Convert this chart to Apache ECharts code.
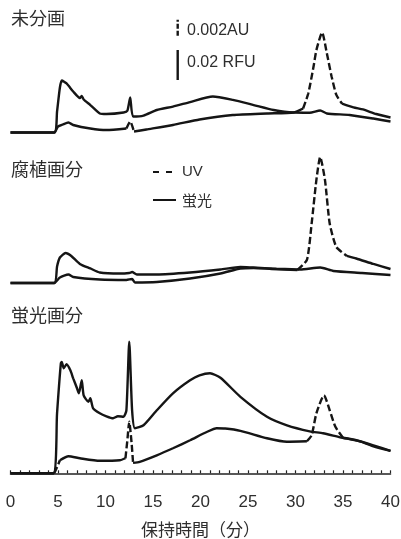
<!DOCTYPE html>
<html>
<head>
<meta charset="utf-8">
<script src="https://cdn.jsdelivr.net/npm/echarts@6/dist/echarts.min.js"></script>
<style>
  html, body { margin: 0; padding: 0; background: #fff; }
  #chart { width: 401px; height: 539px; }
</style>
</head>
<body>
<div id="chart"></div>
<script>
// ---------------- DATA ----------------
// x: retention time (min); fluorescence in mRFU, UV absorbance in mAU
const panelTitles = ['未分画', '腐植画分', '蛍光画分'];
const xTickLabels = [0, 5, 10, 15, 20, 25, 30, 35, 40];
const axisTitle = '保持時間（分）';
const legendNames = ['UV', '蛍光'];
const scaleBarUV = 2;      // mAU  (0.002 AU)
const scaleBarFL = 20;     // mRFU (0.02 RFU)
const scaleBarLabels = ['0.002AU', '0.02 RFU'];

const unfracFluor = [[0,0],[4.6,0],[4.9,14],[5.2,30],[5.4,34.7],[5.9,32.7],[6.6,27.3],[7.3,23],[7.5,24.3],[7.7,22],[8.4,18.3],[9.4,12.7],[10.1,12.3],[11.9,13.3],[12.3,14.5],[12.6,23.3],[12.9,10.7],[14.0,11.3],[15.4,15],[17.1,17.3],[18.9,20.3],[21.3,24],[23.4,21.7],[25.6,18.3],[27.7,15],[29.8,13.3],[31.5,13.2],[32.6,14.7],[33.3,12.7],[35.7,11.7],[38.2,9.3],[40,7.3]];
const unfracUV = [[0,0],[4.6,0],[5.0,0.75],[5.5,1.0],[6.1,1.25],[6.6,0.94],[8.4,0.5],[10.1,0.31],[12.2,0.5],[12.6,1.38],[13.0,0.12],[14.3,0.38],[17.1,0.94],[19.9,1.63],[23.4,2.19],[27.0,2.38],[29.8,2.5],[30.8,3.0],[31.35,4.9],[31.9,8.25],[32.2,10.3],[32.8,12.5],[33.3,9.9],[33.8,7.0],[34.3,4.7],[34.9,3.6],[36.1,3.13],[37.1,2.88],[38.5,2.31],[40,1.88]];

const humicFluor = [[0,0],[4.6,0],[4.9,11],[5.2,17],[5.8,20],[6.4,18],[7.3,12.7],[8.4,9.7],[9.4,7],[11.5,6.3],[12.5,6.7],[12.8,7.3],[13.3,5.7],[15.4,5.7],[18.9,7],[22.1,9],[24.2,10.7],[25.5,10.3],[28,9.5],[30.5,9],[32.6,10.3],[34,8],[37,6.7],[40,5.3]];
const humicUV = [[0,0],[4.6,0],[5.2,0.69],[6.1,1.06],[6.6,0.75],[9.4,0.44],[12.2,0.38],[12.8,0.5],[13.1,0.06],[15.4,0.12],[18.9,0.56],[22.1,1.19],[24.2,1.81],[25.6,1.88],[27.5,1.75],[30.2,1.63],[31.2,2.88],[31.7,7.44],[32.2,12.9],[32.6,15.75],[33.1,12.9],[33.6,7.44],[34.3,4.5],[35.4,3.38],[36.4,3.06],[38.2,2.38],[40,1.75]];

const fluorFracFluor = [[0,0],[4.5,0],[4.9,40],[5.3,73.3],[5.4,74.3],[5.6,70],[5.9,72.7],[6.3,68.7],[6.6,63.3],[7.0,56.7],[7.2,53.3],[7.5,62],[7.7,52],[8.2,47.7],[8.4,50],[8.7,43.3],[9.4,40],[10.1,38],[10.8,36.7],[11.3,38],[11.9,37.7],[12.2,42],[12.5,87.7],[12.8,42],[13.1,30],[14.0,32],[15.4,42],[17.1,53.3],[18.9,62],[19.9,65.3],[21.0,66.7],[22.1,63.7],[24.2,51],[27.0,37.7],[29.1,32],[31.5,28],[32.9,26.7],[34.7,24],[36.8,21.3],[38.2,18],[40,15]];
const fluorFracUV = [[0,0],[4.6,0],[4.8,0.5],[5.2,1.63],[6.1,2.13],[7.3,1.88],[9.4,1.56],[11.5,1.63],[12.1,1.88],[12.3,4.13],[12.5,6.44],[12.75,3.75],[12.9,1.31],[13.6,1.44],[15.4,2.25],[17.1,3.13],[18.9,4.13],[20.7,5.19],[21.7,5.63],[22.6,5.6],[24.2,5.31],[27,4.38],[29.1,3.94],[31.2,4],[31.7,4.75],[32.2,7.5],[33.0,9.75],[33.6,7.88],[34.2,5.81],[35.0,4.44],[36.4,4.13],[38.2,3.5],[40,2.81]];

// ---------------- LAYOUT / STYLE ----------------
const INK = '#151515';
const TXT = '#2e2e2e';
const LW = 2.4;
const FONT = '"Liberation Sans", Arial, "Noto Sans CJK JP", sans-serif';
const CJK = '"Noto Sans CJK JP", sans-serif';
const pxPerFL = 30 / scaleBarFL;   // px per mRFU
const pxPerUV = 16 / scaleBarUV;   // px per mAU
const plotLeft = 10.5, plotRight = 10.5;
const panels = [
  { fl: unfracFluor, uv: unfracUV, top: 10, bottom: 142.5, base: 132.5, dash: [[12.3, 12.95], [30.5, 35.0]] },
  { fl: humicFluor, uv: humicUV, top: 150, bottom: 293, base: 283, dash: [[30.4, 35.0]] },
  { fl: fluorFracFluor, uv: fluorFracUV, top: 325, bottom: 485, base: 473.3, dash: [[4.6, 5.3], [12.05, 12.95], [31.3, 35.2]] }
];
const titlePos = [[11, 18.5], [11, 169], [11, 315]];

function splitDash(points, ranges) {
  const solid = [], dashed = [];
  let last = null;
  for (let i = 0; i < points.length - 1; i++) {
    const a = points[i], b = points[i + 1];
    const m = (a[0] + b[0]) / 2;
    const isD = ranges.some(r => m >= r[0] && m <= r[1]);
    const arr = isD ? dashed : solid;
    if (last !== isD) {
      if (arr.length) arr.push([a[0], '-']);
      arr.push(a);
    }
    arr.push(b);
    last = isD;
  }
  return { solid, dashed };
}

const grids = [], xAxes = [], yAxes = [], series = [];
panels.forEach((p, i) => {
  grids.push({ left: plotLeft, right: plotRight, top: p.top, height: p.bottom - p.top, containLabel: false, outerBoundsMode: 'none' });
  const isLast = i === panels.length - 1;
  xAxes.push({
    gridIndex: i, type: 'value', min: 0, max: 40, interval: 1, show: isLast,
    axisLine: { show: true, lineStyle: { color: '#222', width: 1.6 } },
    axisTick: { show: true, inside: true, length: 3, lineStyle: { color: '#222', width: 1.2 } },
    splitLine: { show: false },
    axisLabel: {
      show: true, margin: 9, fontSize: 17, color: TXT, fontFamily: FONT,
      formatter: v => xTickLabels.indexOf(v) >= 0 ? String(v) : ''
    },
    name: isLast ? axisTitle : '', nameLocation: 'middle', nameGap: 36,
    nameTextStyle: { fontSize: 17, color: TXT, fontFamily: CJK }
  });
  const below = p.bottom - p.base, above = p.base - p.top;
  yAxes.push({ gridIndex: i, type: 'value', show: false, min: -below / pxPerFL, max: above / pxPerFL, splitLine: { show: false } });
  yAxes.push({ gridIndex: i, type: 'value', show: false, min: -below / pxPerUV, max: above / pxPerUV, splitLine: { show: false } });

  const parts = splitDash(p.uv, p.dash);
  series.push({
    name: legendNames[0], type: 'line', xAxisIndex: i, yAxisIndex: 2 * i + 1, data: parts.dashed,
    symbol: 'none', smooth: 0.2, connectNulls: false, color: INK,
    lineStyle: { color: INK, width: LW, type: [7, 3] }, silent: true, z: 3
  });
  series.push({
    name: legendNames[0], type: 'line', xAxisIndex: i, yAxisIndex: 2 * i + 1, data: parts.solid,
    symbol: 'none', smooth: 0.2, connectNulls: false, color: INK,
    lineStyle: { color: INK, width: LW }, silent: true, z: 3
  });
  series.push({
    name: legendNames[1], type: 'line', xAxisIndex: i, yAxisIndex: 2 * i, data: p.fl,
    symbol: 'none', smooth: 0.2, color: INK,
    lineStyle: { color: INK, width: LW }, silent: true, z: 4
  });
});

// scale bars (in first panel, drawn through its axes)
const barX = 17.6, barUVstart = 12.1, barFLstart = 35;
series.push({
  name: 'scaleUV', type: 'line', xAxisIndex: 0, yAxisIndex: 1, symbol: 'none', color: INK,
  data: [[barX, barUVstart], [barX, barUVstart + scaleBarUV]],
  lineStyle: { color: INK, width: LW, type: [5, 2] }, silent: true
});
series.push({
  name: 'scaleFL', type: 'line', xAxisIndex: 0, yAxisIndex: 0, symbol: 'none', color: INK,
  data: [[barX, barFLstart], [barX, barFLstart + scaleBarFL]],
  lineStyle: { color: INK, width: LW }, silent: true
});

const graphics = [];
panelTitles.forEach((t, i) => {
  graphics.push({
    type: 'text', x: titlePos[i][0], y: titlePos[i][1], silent: true,
    style: { text: t, fontSize: 18, fontFamily: CJK, fill: TXT, verticalAlign: 'middle' }
  });
});
graphics.push({ type: 'text', x: 187, y: 31, silent: true,
  style: { text: scaleBarLabels[0], fontSize: 16, fontFamily: FONT, fill: TXT, verticalAlign: 'middle' } });
graphics.push({ type: 'text', x: 187, y: 63, silent: true,
  style: { text: scaleBarLabels[1], fontSize: 16, fontFamily: FONT, fill: TXT, verticalAlign: 'middle' } });
// legend (drawn as graphic keys)
graphics.push({ type: 'line', silent: true, shape: { x1: 153, y1: 172, x2: 172, y2: 172 },
  style: { stroke: INK, lineWidth: 2, lineDash: [6, 7] } });
graphics.push({ type: 'line', silent: true, shape: { x1: 153, y1: 200, x2: 176, y2: 200 },
  style: { stroke: INK, lineWidth: 2 } });
graphics.push({ type: 'text', x: 182, y: 172, silent: true,
  style: { text: legendNames[0], fontSize: 15, fontFamily: FONT, fill: TXT, verticalAlign: 'middle' } });
graphics.push({ type: 'text', x: 182, y: 200, silent: true,
  style: { text: legendNames[1], fontSize: 15, fontFamily: CJK, fill: TXT, verticalAlign: 'middle' } });

const chart = echarts.init(document.getElementById('chart'), null, { renderer: 'canvas' });
chart.setOption({
  animation: false,
  backgroundColor: '#fff',
  grid: grids,
  xAxis: xAxes,
  yAxis: yAxes,
  graphic: graphics,
  series: series
});
</script>
</body>
</html>
